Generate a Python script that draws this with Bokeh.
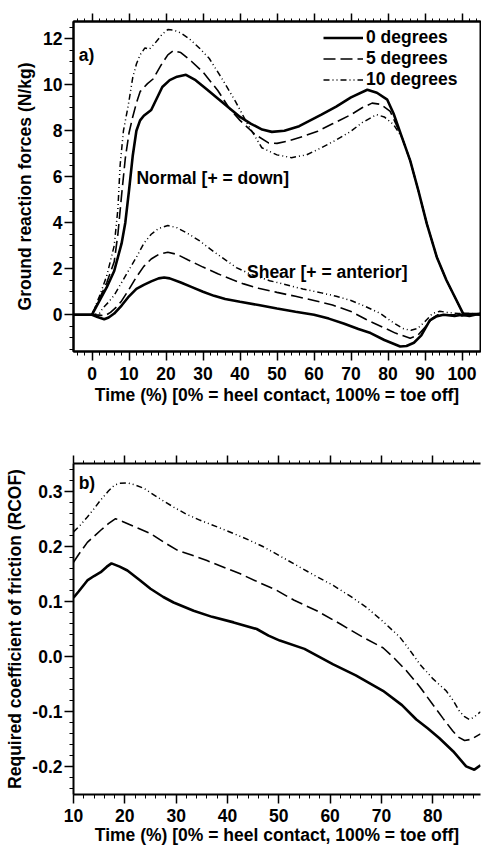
from bokeh.plotting import figure
from bokeh.models import (LinearAxis, SingleIntervalTicker, Range1d, Legend,
                          LegendItem, Label, NumeralTickFormatter, CustomJSTickFormatter)
from bokeh.layouts import column
from bokeh.embed import file_html
from bokeh.resources import INLINE

FONT = "Liberation Sans"
FS = "17.5px"

# ---------------- data: panel a) ground reaction forces ----------------
t_n0 = [-5, 0, 2, 4, 6, 8, 9, 10, 11, 12, 13, 14, 16, 17.5, 19, 21, 23, 25.4, 28, 31, 34, 37,
        40, 43, 46, 48.6, 52, 56, 59, 62, 66, 70, 74.4, 77, 79.8, 81.5, 83.8, 86, 88.2, 90.5,
        93.2, 95.8, 98.5, 100.3, 105]
n0 = [0, 0, 0.6, 1.2, 1.9, 3.1, 4.0, 5.4, 6.9, 8.0, 8.45, 8.65, 8.9, 9.4, 9.9, 10.2, 10.35,
      10.43, 10.2, 9.8, 9.4, 9.0, 8.6, 8.3, 8.05, 7.95, 8.0, 8.2, 8.45, 8.7, 9.05, 9.45, 9.78,
      9.65, 9.35, 8.75, 7.7, 6.7, 5.4, 3.95, 2.5, 1.5, 0.63, 0.05, 0.0]

t_n5 = [-5, 0, 2, 4, 6, 7, 8, 9, 10, 11, 12, 13, 15, 16.5, 18.7, 20.5, 22, 24, 27, 30, 34, 37,
        40, 44, 47.7, 50, 53, 57, 61, 65, 70, 73, 75.7, 78, 80.6, 83.8, 86, 88.2, 90.5, 93.2,
        95.8, 98.5, 100.3, 105]
n5 = [0, 0, 0.7, 1.4, 2.3, 3.5, 5.2, 6.8, 7.9, 8.6, 9.2, 9.7, 10.05, 10.25, 10.86, 11.3, 11.48,
      11.4, 11.0, 10.55, 9.75, 9.0, 8.45, 7.85, 7.47, 7.45, 7.55, 7.75, 7.98, 8.3, 8.7, 9.0,
      9.2, 9.15, 8.84, 7.7, 6.7, 5.4, 3.95, 2.5, 1.5, 0.63, 0.05, 0.0]

t_n10 = [-5, 0, 2, 4, 6, 7, 7.6, 8.5, 9.8, 11, 12, 13, 14.3, 15.5, 17, 19, 20.5, 22, 24, 26.3,
         29, 31.7, 35, 38.8, 42, 45.9, 50, 53.9, 58, 62, 66, 70, 73, 76.9, 79, 81.5, 83.8, 86,
         88.2, 90.5, 93.2, 95.8, 98.5, 100.3, 105]
n10 = [0, 0, 0.8, 1.7, 3.0, 4.6, 6.5, 8.0, 9.1, 10.3, 10.9, 11.3, 11.6, 11.55, 11.8, 12.2, 12.4,
       12.38, 12.25, 12.0, 11.6, 11.14, 10.3, 9.27, 8.3, 7.26, 6.95, 6.83, 6.95, 7.26, 7.6, 7.98,
       8.35, 8.7, 8.6, 8.27, 7.7, 6.7, 5.4, 3.95, 2.5, 1.5, 0.63, 0.05, 0.0]

t_s0 = [-5, 0, 1.5, 3.3, 4.5, 6, 8, 10, 12, 14, 16, 18, 19.5, 21, 24, 27, 30, 33, 36, 40, 45, 50,
        55, 60, 64, 68, 72, 75.3, 79, 83.3, 85, 87, 89, 91.3, 93, 95, 98, 100, 102, 105]
s0 = [0, 0, -0.1, -0.2, -0.12, 0.05, 0.4, 0.8, 1.12, 1.3, 1.45, 1.58, 1.62, 1.58, 1.4, 1.2, 1.0,
      0.82, 0.68, 0.56, 0.42, 0.27, 0.13, 0.0, -0.17, -0.38, -0.62, -0.8, -1.1, -1.38, -1.36,
      -1.22, -0.9, -0.25, -0.08, 0.0, -0.05, 0.0, -0.05, 0.05]

t_s5 = [-5, 0, 2, 3.5, 5, 6.7, 8, 10, 12, 14, 16, 18, 20.5, 23, 26, 30, 34, 38, 41, 45, 50, 55,
        60, 65, 70, 74, 78, 82, 86, 88, 90, 92, 93.5, 95, 98, 100, 105]
s5 = [0, 0, -0.02, -0.05, 0.1, 0.35, 0.6, 1.1, 1.64, 2.1, 2.42, 2.62, 2.72, 2.62, 2.38, 2.07,
      1.78, 1.52, 1.34, 1.15, 0.97, 0.8, 0.62, 0.42, 0.14, -0.2, -0.5, -0.8, -1.02, -0.9,
      -0.55, -0.15, 0.0, 0.0, 0.0, -0.05, 0.05]

t_s10 = [-5, 0, 2, 3, 4.5, 6, 8, 10, 12, 14, 16, 18, 20.5, 23, 26, 29, 32, 35, 39, 43, 48, 53,
         57, 62, 66, 70, 74, 78, 81, 84, 86.2, 88, 90, 92, 94, 96, 99, 105]
s10 = [0, 0, 0.05, 0.3, 0.55, 0.85, 1.4, 1.95, 2.5, 3.1, 3.5, 3.75, 3.88, 3.78, 3.52, 3.22, 2.85,
       2.5, 2.05, 1.75, 1.48, 1.28, 1.12, 0.95, 0.8, 0.62, 0.35, 0.05, -0.3, -0.6, -0.68, -0.6,
       -0.3, 0.05, 0.15, 0.1, 0.05, 0.05]

# ---------------- data: panel b) RCOF ----------------
t_r0 = [10, 11, 12.7, 14, 15.3, 16.5, 17.4, 19, 20.5, 23, 25, 27.5, 29.5, 33.4, 37, 41.2, 45.7,
        48, 50.2, 55, 60.6, 65, 70.3, 74, 76.8, 79, 81.3, 84, 86.5, 88.1, 89.3]
r0 = [0.107, 0.118, 0.138, 0.146, 0.153, 0.163, 0.169, 0.163, 0.156, 0.138, 0.123, 0.108, 0.098,
      0.083, 0.072, 0.062, 0.050, 0.038, 0.029, 0.014, -0.014, -0.034, -0.062, -0.088, -0.114,
      -0.13, -0.148, -0.172, -0.199, -0.205, -0.197]

t_r5 = [10, 11, 12.7, 14, 15.3, 16.8, 18.2, 20, 22.5, 25, 27.5, 30.2, 33, 36, 39, 42.5, 46, 49.6,
        53, 57.4, 62, 66.4, 70.3, 72.5, 74.9, 77.5, 80, 82, 83.9, 85, 86.2, 87.5, 89.3]
r5 = [0.171, 0.185, 0.207, 0.218, 0.229, 0.241, 0.250, 0.243, 0.233, 0.223, 0.208, 0.193, 0.184,
      0.174, 0.163, 0.150, 0.135, 0.120, 0.102, 0.083, 0.059, 0.035, 0.016, -0.003, -0.026,
      -0.055, -0.087, -0.112, -0.135, -0.146, -0.152, -0.150, -0.140]

t_r10 = [10, 11.3, 12.7, 14, 15.3, 16.8, 18, 19, 20.5, 22, 23.7, 26.5, 29.5, 32, 34.7, 38, 41.2,
         44, 47, 50.5, 54.1, 57, 60.6, 64, 67.1, 70.5, 73.6, 75.5, 77.5, 80, 82.6, 84, 85.2, 86.2,
         87.1, 88, 89.3]
r10 = [0.226, 0.238, 0.253, 0.268, 0.284, 0.300, 0.311, 0.314, 0.315, 0.311, 0.305, 0.288, 0.271,
       0.258, 0.247, 0.235, 0.223, 0.212, 0.199, 0.181, 0.162, 0.147, 0.129, 0.109, 0.089, 0.062,
       0.035, 0.012, -0.014, -0.04, -0.062, -0.08, -0.099, -0.109, -0.114, -0.110, -0.100]

legend_labels = ["0 degrees", "5 degrees", "10 degrees"]
x_title = "Time (%) [0% = heel contact, 100% = toe off]"

STY = [dict(line_width=2.6, line_dash="solid"),
       dict(line_width=1.6, line_dash="12 5"),
       dict(line_width=1.5, line_dash="6 3 1 3 1 3")]


def style_axis(ax, tick_out=9, minor_out=4):
    ax.axis_line_width = 2
    ax.axis_line_color = "black"
    ax.major_tick_out = tick_out
    ax.major_tick_in = 0
    ax.minor_tick_out = minor_out
    ax.minor_tick_in = 0
    ax.major_tick_line_width = 1.5
    ax.minor_tick_line_width = 1
    ax.major_tick_line_color = "black"
    ax.minor_tick_line_color = "black"
    ax.major_label_text_font = FONT
    ax.major_label_text_font_style = "bold"
    ax.major_label_text_font_size = FS
    ax.major_label_text_color = "black"
    ax.axis_label_text_font = FONT
    ax.axis_label_text_font_style = "bold"
    ax.axis_label_text_font_size = FS
    ax.axis_label_text_color = "black"
    ax.major_label_standoff = 2


def tick_only_axis():
    ax = LinearAxis(ticker=SingleIntervalTicker(interval=10, num_minor_ticks=5),
                    formatter=CustomJSTickFormatter(code="return ''"))
    style_axis(ax, tick_out=8, minor_out=3)
    ax.major_label_text_font_size = "1px"
    ax.major_label_standoff = 0
    return ax


def lbl(x, y, text):
    return Label(x=x, y=y, text=text, text_font=FONT, text_font_style="bold",
                 text_font_size=FS, text_color="black", text_baseline="alphabetic")


# ---------------- panel a ----------------
p1 = figure(width=481, height=430, x_range=Range1d(-5, 105), y_range=Range1d(-1.6, 12.75),
            output_backend="svg", toolbar_location=None,
            min_border_left=70, min_border_top=21, min_border_bottom=79, min_border_right=1,
            x_axis_label=x_title, y_axis_label="Ground reaction forces (N/kg)")
p1.xgrid.visible = False
p1.ygrid.visible = False
p1.outline_line_color = "black"
p1.outline_line_width = 2
p1.outline_line_alpha = 1
p1.background_fill_color = "white"
p1.border_fill_color = "white"

p1.xaxis[0].ticker = SingleIntervalTicker(interval=10, num_minor_ticks=5)
p1.yaxis[0].ticker = SingleIntervalTicker(interval=2, num_minor_ticks=4)
style_axis(p1.xaxis[0])
style_axis(p1.yaxis[0])
p1.xaxis[0].major_label_standoff = 6
p1.xaxis[0].axis_label_standoff = 2
p1.yaxis[0].axis_label_standoff = 5
p1.add_layout(tick_only_axis(), "above")

normal_rs = []
for (tx, ty), st in zip([(t_n0, n0), (t_n5, n5), (t_n10, n10)], STY):
    normal_rs.append(p1.line(tx, ty, line_color="black", **st))
for (tx, ty), st in zip([(t_s0, s0), (t_s5, s5), (t_s10, s10)], STY):
    p1.line(tx, ty, line_color="black", **st)

legend = Legend(items=[LegendItem(label=l, renderers=[r]) for l, r in zip(legend_labels, normal_rs)],
                location=(245, 256), label_text_font=FONT, label_text_font_style="bold",
                label_text_font_size=FS, label_text_color="black",
                glyph_width=40, glyph_height=21, label_height=21, label_standoff=3,
                spacing=0, padding=5, margin=0, border_line_alpha=0, background_fill_alpha=0)
p1.add_layout(legend)

p1.add_layout(lbl(-3.6, 11.3, "a)"))
p1.add_layout(lbl(12, 5.95, "Normal [+ = down]"))
p1.add_layout(lbl(41.9, 1.86, "Shear [+ = anterior]"))

# ---------------- panel b ----------------
p2 = figure(width=481, height=418, x_range=Range1d(10, 89.3), y_range=Range1d(-0.25, 0.35),
            output_backend="svg", toolbar_location=None,
            min_border_left=73, min_border_top=33, min_border_bottom=54, min_border_right=0,
            x_axis_label=x_title, y_axis_label="Required coefficient of friction (RCOF)")
p2.xgrid.visible = False
p2.ygrid.visible = False
p2.outline_line_color = None
p2.background_fill_color = "white"
p2.border_fill_color = "white"

p2.xaxis[0].ticker = SingleIntervalTicker(interval=10, num_minor_ticks=5)
p2.yaxis[0].ticker = SingleIntervalTicker(interval=0.1, num_minor_ticks=5)
p2.yaxis[0].formatter = NumeralTickFormatter(format="0.0")
style_axis(p2.xaxis[0])
style_axis(p2.yaxis[0])
p2.xaxis[0].major_label_standoff = 5
p2.xaxis[0].axis_label_standoff = 0
p2.yaxis[0].axis_label_standoff = 4
p2.add_layout(tick_only_axis(), "above")

for (tx, ty), st in zip([(t_r0, r0), (t_r5, r5), (t_r10, r10)], STY):
    p2.line(tx, ty, line_color="black", **st)

p2.add_layout(lbl(11.0, 0.315, "b)"))

layout = column(p1, p2, spacing=0)
open("out.html", "w").write(file_html(layout, INLINE))
